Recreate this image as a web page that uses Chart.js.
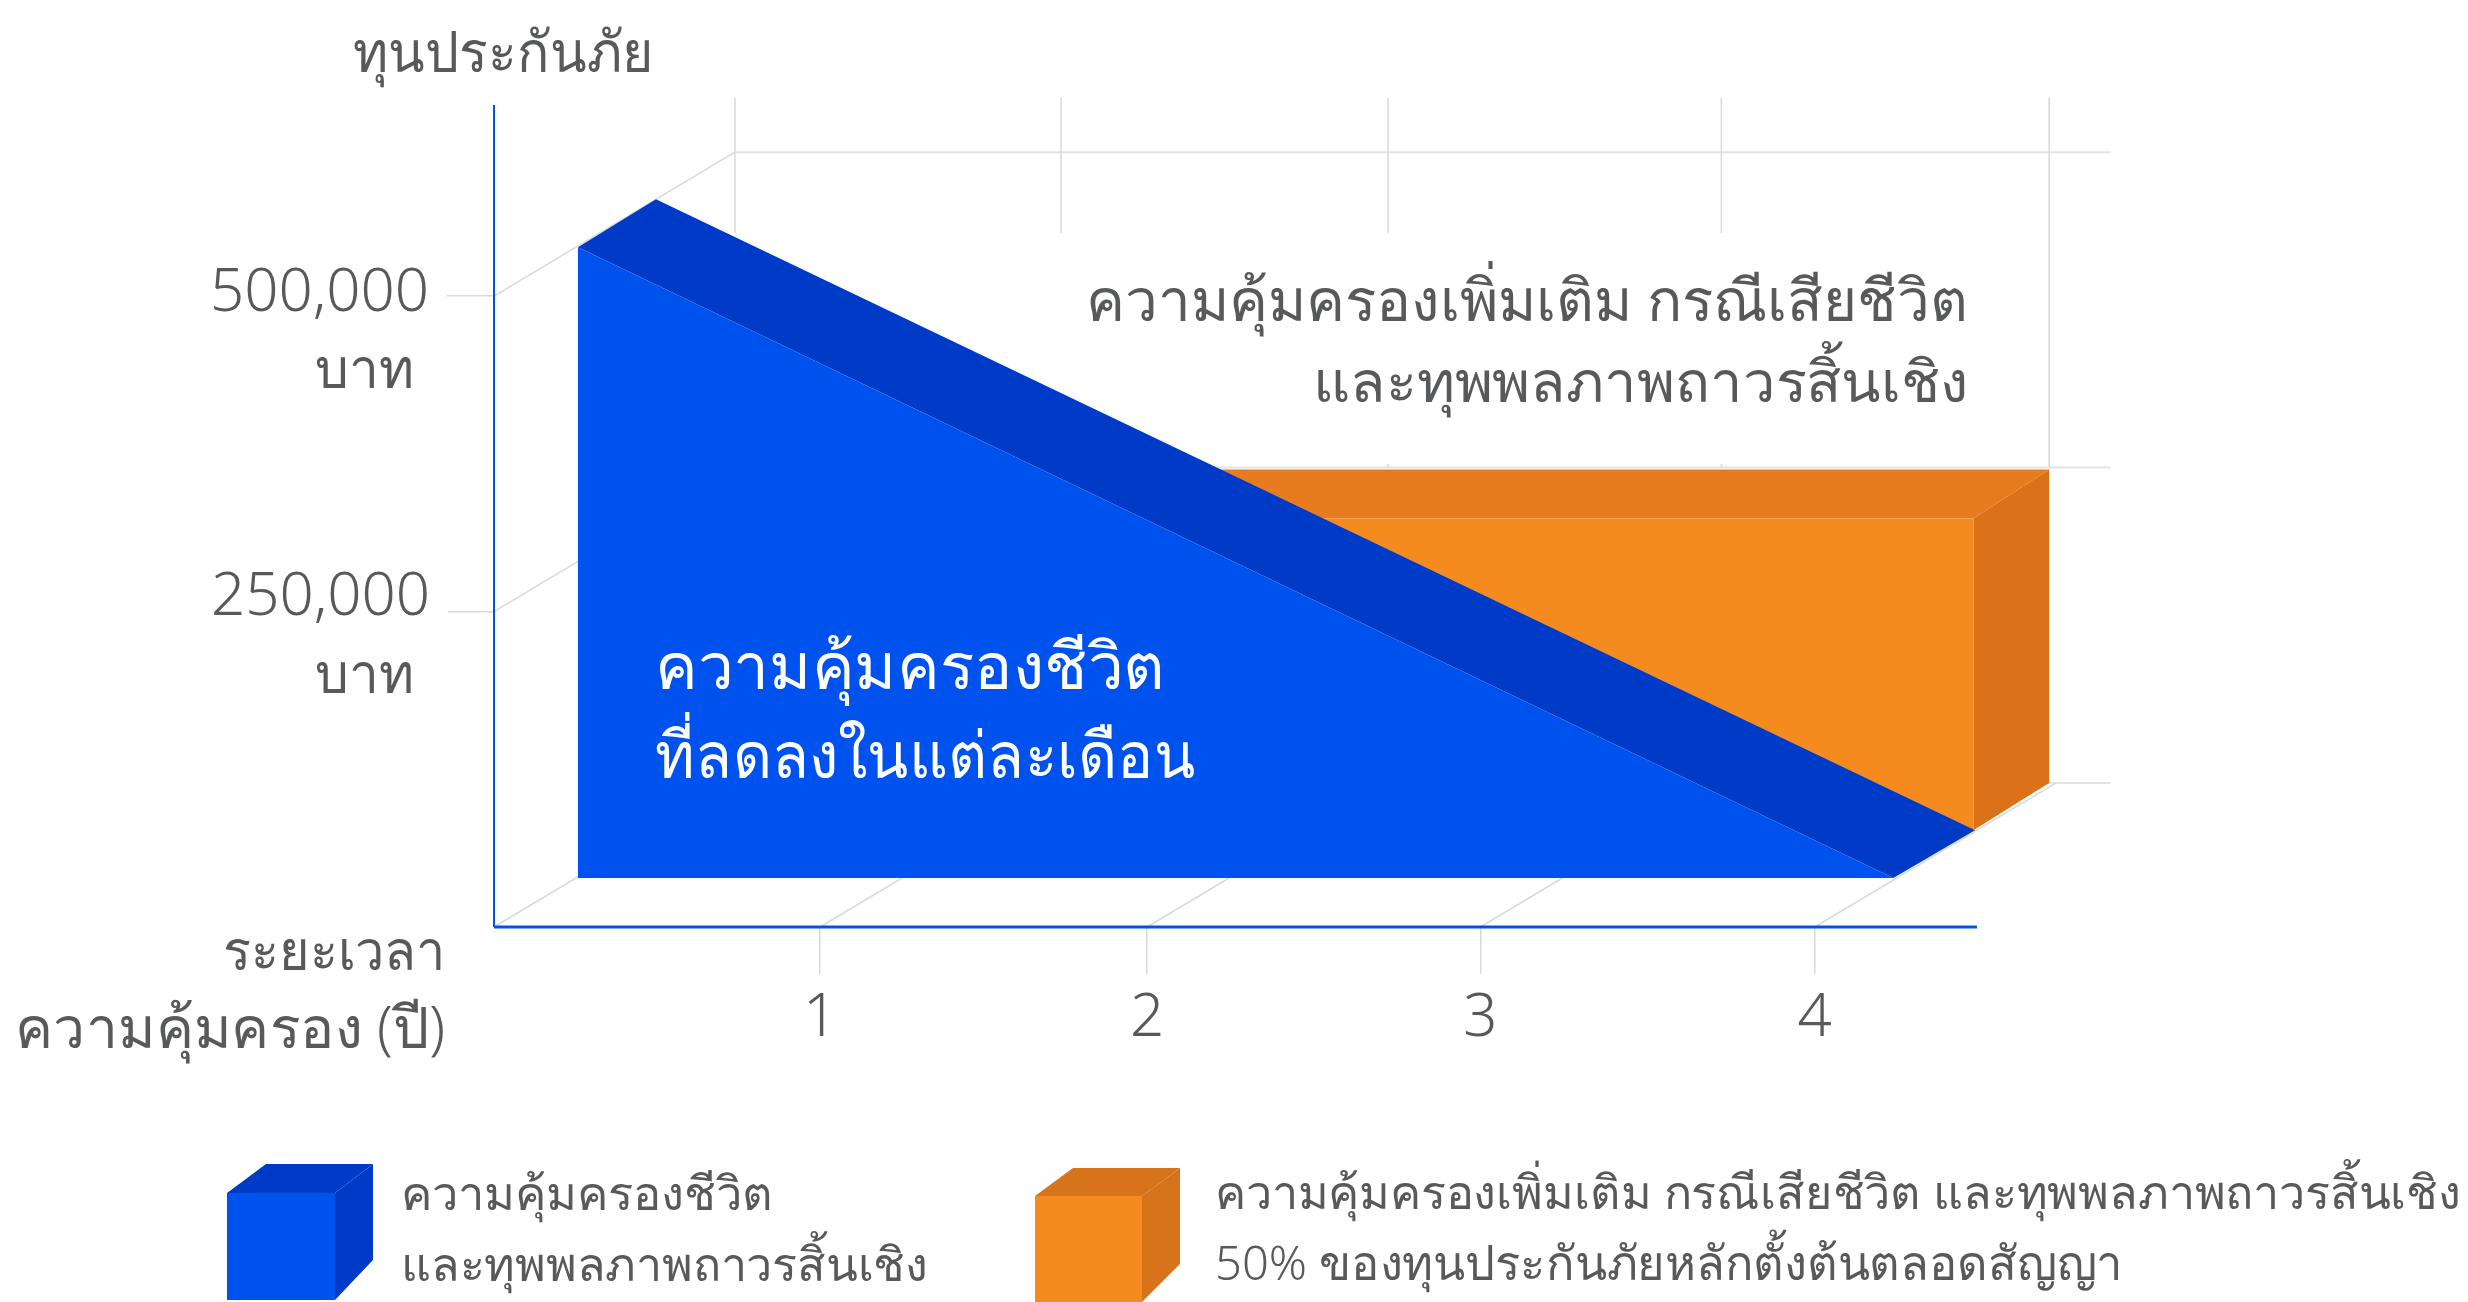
<!DOCTYPE html>
<html><head><meta charset="utf-8">
<style>html,body{margin:0;padding:0;background:#fff}canvas{display:block}</style>
<script src="https://cdn.jsdelivr.net/npm/chart.js@4/dist/chart.umd.js"></script>
</head><body><canvas id="c" width="2468" height="1302"></canvas>
<script>
const xTickPositions=[0.985,1.973,2.98,3.99];
const xTickLabels=['1','2','3','4'];
const yTickValues=[250000,500000];
const coverageFrontYears=[0.006,3.98];
const coverageBackYears=[0,3.985];
const coverageValues=[500000,0];
const extraValue=250000;
const extraFrontTop=247000, extraBackTop=248500;
const extraStartFront=1.84, extraStartBack=1.38, extraEndFront=3.98, extraEndBack=3.97, extraHiddenEnd=3.78;
const backGridYears=[0,0.985,1.973,2.98,3.97];
const backGridTop=543000, backGridBreak=436000;
const depthFront=0.34, depthMid=0.672;

const FONT='"Noto Sans", Inter, sans-serif', TXT='#58595b', GRID='#d9d9d9', AXIS='#0052ef';
const BLUE='#0052ef', BLUE_D='#003bc8', OR='#f58a1f', OR_T='#e87a1f', OR_S='#db7219';
const DX=0.728, DY=114100;
const p=(yr,v,d=0)=>({x:yr+d*DX,y:v+d*DY});
const poly=(pts,color)=>({type:'line',data:pts,fill:'shape',backgroundColor:color,borderWidth:0,pointRadius:0,clip:false,tension:0});
const seg=(a,b,color=GRID,w=1.5)=>({type:'line',data:[a,b],fill:false,borderColor:color,borderWidth:w,pointRadius:0,clip:false});

const layers=[];
// side wall, back wall and floor grid
[0,...yTickValues].forEach(v=>layers.push(seg(p(0,v),p(0,v,1))));
[0,...yTickValues].forEach(v=>layers.push(seg(p(0,v,1),p(4.155,v,1),'#e3e3e3',2)));
xTickPositions.forEach(x=>layers.push(seg(p(x,0),p(x,0,1))));
backGridYears.forEach((x,i)=>{
  const last=i===backGridYears.length-1;
  layers.push(seg(p(x,backGridTop,1),p(x,last?extraValue:backGridBreak,1)));
  if(i>1&&!last) layers.push(seg(p(x,253000,1),p(x,extraValue,1)));
});
// extra coverage (orange); the part past the band's edge stays hidden behind the band
layers.push(poly([p(extraStartBack,extraBackTop,1),p(extraEndBack,extraBackTop,1),p(extraEndFront,extraFrontTop,depthMid),p(extraStartFront,extraFrontTop,depthMid)],OR_T));
layers.push(poly([p(extraEndBack,extraBackTop,1),p(extraEndBack,0,1),p(extraEndFront,0,depthMid),p(extraEndFront,extraFrontTop,depthMid)],OR_S));
layers.push(poly([p(extraStartFront,extraFrontTop,depthMid),p(extraEndFront,extraFrontTop,depthMid),p(extraEndFront,0,depthMid),p(extraHiddenEnd,0,depthMid)],OR));
// life coverage (blue)
const [fy0,fy1]=coverageFrontYears,[by0,by1]=coverageBackYears,[v0,v1]=coverageValues;
layers.push(poly([p(fy0,v0,depthFront),p(by0,v0,depthMid),p(by1,v1,depthMid),p(fy1,v1,depthFront)],BLUE_D));
layers.push(poly([p(fy0,v0,depthFront),p(fy1,v1,depthFront),p(fy0,0,depthFront)],BLUE));
// axis lines
layers.push(seg(p(0,0),p(4.48,0),AXIS,3));
layers.push(seg(p(0,0),p(0,651400),AXIS,2));

const texts=[
 {t:'ทุนประกันภัย',x:503,y:72,a:'center',s:57,w:301},
 {t:'บาท',x:414,y:388,a:'right',s:56,w:99},
 {t:'บาท',x:414,y:693,a:'right',s:56,w:99},
 {t:'ระยะเวลา',x:445,y:970,a:'right',s:56,w:222},
 {t:'ความคุ้มครอง (ปี)',x:445,y:1048,a:'right',s:58,w:430},
 {t:'ความคุ้มครองเพิ่มเติม กรณีเสียชีวิต',x:1968,y:321,a:'right',s:58.4,w:882},
 {t:'และทุพพลภาพถาวรสิ้นเชิง',x:1968,y:402,a:'right',s:58,w:655},
 {t:'ความคุ้มครองชีวิต',x:655,y:689,a:'left',s:64.5,c:'#fff',w:510},
 {t:'ที่ลดลงในแต่ละเดือน',x:655,y:778,a:'left',s:64.5,c:'#fff',w:540},
 {t:'ความคุ้มครองชีวิต',x:401,y:1210,a:'left',s:47,w:372},
 {t:'และทุพพลภาพถาวรสิ้นเชิง',x:401,y:1281,a:'left',s:47,w:527},
 {t:'ความคุ้มครองเพิ่มเติม กรณีเสียชีวิต และทุพพลภาพถาวรสิ้นเชิง',x:1215,y:1209,a:'left',s:47,w:1246},
 {t:'50% ของทุนประกันภัยหลักตั้งต้นตลอดสัญญา',x:1215,y:1280,a:'left',s:47.5,w:908},
];
const box=(ctx,f,t,s,fc,tc,sc)=>{
  const P=(c,pts)=>{ctx.fillStyle=c;ctx.beginPath();pts.forEach((q,i)=>i?ctx.lineTo(q[0],q[1]):ctx.moveTo(q[0],q[1]));ctx.closePath();ctx.fill();};
  P(tc,[[f.l,f.t],[t.l,t.t],[t.r,t.t],[f.r,f.t]]);
  P(sc,[[f.r,f.t],[t.r,t.t],[t.r,s],[f.r,f.b]]);
  P(fc,[[f.l,f.t],[f.r,f.t],[f.r,f.b],[f.l,f.b]]);
};
const annot={id:'annot',
 afterLayout(ch){ch.scales.yB.left=0;},   // tick labels are clipped to the scale box
 afterDraw(ch){
  const ctx=ch.ctx;ctx.save();
  box(ctx,{l:227,r:335,t:1193,b:1300},{l:266,r:373,t:1164},1260,BLUE,'#003bc8','#003bc8');
  box(ctx,{l:1035,r:1142,t:1196,b:1302},{l:1073,r:1180,t:1168},1264,OR,'#d6731b','#d6731b');
  ctx.textBaseline='alphabetic';
  texts.forEach(o=>{ctx.font=`300 ${o.s}px ${FONT}`;ctx.fillStyle=o.c||TXT;ctx.textAlign=o.a;ctx.fillText(o.t,o.x,o.y,o.w);});
  ctx.restore();
}};
const yAxis=(vals,off,w,weight)=>({type:'linear',position:'left',min:0,max:657000,weight,
  afterBuildTicks(s){s.ticks=vals.map(v=>({value:v}));},
  afterFit(s){s.width=w;},
  border:{display:false},
  grid:{drawOnChartArea:false,drawTicks:true,tickLength:46,tickColor:GRID,lineWidth:1.5},
  ticks:{padding:18,labelOffset:off,color:TXT,font:{family:FONT,size:60,weight:300},callback:v=>v.toLocaleString('en-US')}});
new Chart(document.getElementById('c'),{
 data:{datasets:layers.slice().reverse()},
 options:{responsive:false,animation:false,events:[],
  layout:{padding:{top:98,right:358,left:0,bottom:0}},
  plugins:{legend:{display:false},tooltip:{enabled:false}},
  scales:{
   x:{type:'linear',min:0,max:4.882,
     afterBuildTicks(s){s.ticks=xTickPositions.map(v=>({value:v}));},
     afterFit(s){s.height=375;},
     border:{display:false},
     grid:{drawOnChartArea:false,drawTicks:true,tickLength:47,tickColor:GRID,lineWidth:1.5},
     ticks:{padding:9,autoSkip:false,maxRotation:0,color:TXT,font:{family:FONT,size:60,weight:300},callback:(v,i)=>xTickLabels[i]}},
   y:yAxis([500000],-2,493,1),
   yB:yAxis([250000],-14,1,0)
  }},
 plugins:[annot]
});
</script></body></html>
